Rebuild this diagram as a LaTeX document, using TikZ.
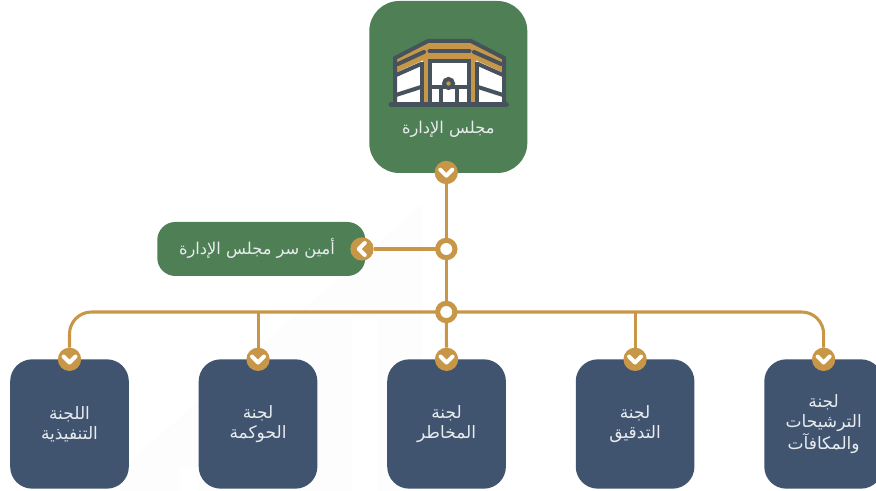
\documentclass[tikz,border=0pt]{standalone}
\usepackage{fontspec}
\newfontfamily\arabicfont[Script=Arabic]{DejaVu Sans}
\TeXXeTstate=1
\newcommand{\ar}[1]{\beginR #1\endR}
\definecolor{boardgreen}{HTML}{4E7F55}
\definecolor{cmteblue}{HTML}{40536F}
\definecolor{linegold}{HTML}{C79647}
\definecolor{icondark}{HTML}{47535C}
\definecolor{txtlight}{HTML}{E9ECEF}
\definecolor{bgfaint}{HTML}{FDFDFD}

\begin{document}
\begin{tikzpicture}[x=0.75pt,y=-0.75pt,node distance=141.4pt,
  box/.style={inner sep=0pt,outer sep=0pt,font=\arabicfont\fontsize{12.2}{15}\selectfont,text=txtlight,align=center},
  board/.style={box,fill=boardgreen,rounded corners=22.5pt,minimum width=118.5pt,minimum height=129pt},
  secretary/.style={box,fill=boardgreen,rounded corners=13.5pt,minimum width=156pt,minimum height=40.5pt},
  cmte/.style={box,font=\arabicfont\fontsize{12.8}{15}\selectfont,fill=cmteblue,rounded corners=16.5pt,minimum width=89pt,minimum height=97pt},
  badge/.style={circle,fill=linegold,inner sep=0pt,outer sep=0pt,minimum size=17.5pt},
  junction/.style={circle,fill=white,draw=linegold,line width=3.8pt,inner sep=0pt,outer sep=0pt,minimum size=13pt},
  link/.style={linegold,line width=2.3pt},
  chevron/.style={white,line width=3pt,line cap=round,line join=round},
  iconline/.style={icondark,line width=3pt,line join=miter}]
  \useasboundingbox (0,0) rectangle (876,491);
  % faint backdrop
  \fill[bgfaint] (120,470) -- (423,203) -- (423,491) -- (120,491) -- cycle;
  \fill[white] (352,318) rectangle (378,491);
  \fill[white] (180,467) rectangle (198,491);

  \node[board] (board) at (448.3,87) {};
  \node[box] (boardtxt) at (448.3,129) {\ar{مجلس الإدارة}};
  \node[secretary] (sec) at (261.3,249) {};
  \node[box] (sectxt) at (257,248) {\ar{أمين سر مجلس الإدارة}};

  \node[cmte] (c1) at (69.5,424) {\ar{اللجنة}\\\ar{التنفيذية}};
  \node[cmte] (c2) [right of=c1] {\ar{لجنة}\\\ar{الحوكمة}};
  \node[cmte] (c3) [right of=c2] {\ar{لجنة}\\\ar{المخاطر}};
  \node[cmte] (c4) [right of=c3] {\ar{لجنة}\\\ar{التدقيق}};
  \node[cmte] (c5) [right of=c4] {\ar{لجنة}\\\ar{الترشيحات}\\\ar{والمكافآت}};

  \node[badge] (boardb) at (446.3,172.5) {};
  \node[badge] (secb) at (362,249) {};
  \node[badge] (b1) at (c1.north) {};
  \node[badge] (b2) at (c2.north) {};
  \node[badge] (b3) at (c3.north) {};
  \node[badge] (b4) at (c4.north) {};
  \node[badge] (b5) at (c5.north) {};
  \node[junction] (juncA) at (446.3,249) {};
  \node[junction] (juncB) at (446.3,312) {};

  \draw[link] (boardb) -- (juncA);
  \draw[link] (juncA) -- (juncB);
  \draw[link] (juncA) -- (secb);
  \draw[link] (juncB) -- (b3);
  \draw[link,rounded corners=16.5pt] (juncB) -| (b1);
  \draw[link] (b2 |- juncB) -- (b2);
  \draw[link] (b4 |- juncB) -- (b4);
  \draw[link,rounded corners=16.5pt] (juncB) -| (b5);

  \foreach \b in {boardb,b1,b2,b3,b4,b5}
    \draw[chevron] ([shift={(-6,-2.8)}]\b.center) -- ([shift={(0,3.2)}]\b.center) -- ([shift={(6,-2.8)}]\b.center);
  \draw[chevron] ([shift={(2.8,-6)}]secb.center) -- ([shift={(-3.2,0)}]secb.center) -- ([shift={(2.8,6)}]secb.center);

  % kaaba icon
  \fill[white] (395,58) -- (428,41) -- (471,41) -- (504,58) -- (504,104) -- (395,104) -- cycle;
  \fill[linegold] (395,58) -- (428,41) -- (471,41) -- (504,58) -- (504,73) -- (473,59) -- (426,59) -- (395,73) -- cycle;
  \fill[linegold] (423,59) rectangle (428,103);
  \fill[linegold] (470,59) rectangle (476,103);
  \draw[iconline] (395,104) -- (395,58) -- (428,41) -- (471,41) -- (504,58) -- (504,104);
  \draw[iconline,line cap=round] (398,64) -- (424,52);
  \draw[iconline,line cap=round] (429.5,51) -- (469.5,51);
  \draw[iconline,line cap=round] (474,52) -- (501,64);
  \draw[iconline] (421.5,62) -- (421.5,104);
  \draw[iconline] (477,62) -- (477,104);
  \draw[iconline] (396,75) -- (421,64);
  \draw[iconline] (478,64) -- (503,75);
  \draw[iconline] (396,95) -- (421,87);
  \draw[iconline] (478,87) -- (503,95);
  \draw[iconline] (429.5,104) -- (429.5,61) -- (468.5,61) -- (468.5,104);
  \draw[iconline] (430,87) -- (468,87);
  \draw[iconline] (441,104) -- (441,85);
  \draw[iconline] (457,104) -- (457,85);
  \draw[iconline,fill=linegold] (448.5,83.5) circle (4.5);
  \draw[icondark,line width=3.6pt,line cap=round] (391,104.7) -- (506.5,104.7);
\end{tikzpicture}
\end{document}
